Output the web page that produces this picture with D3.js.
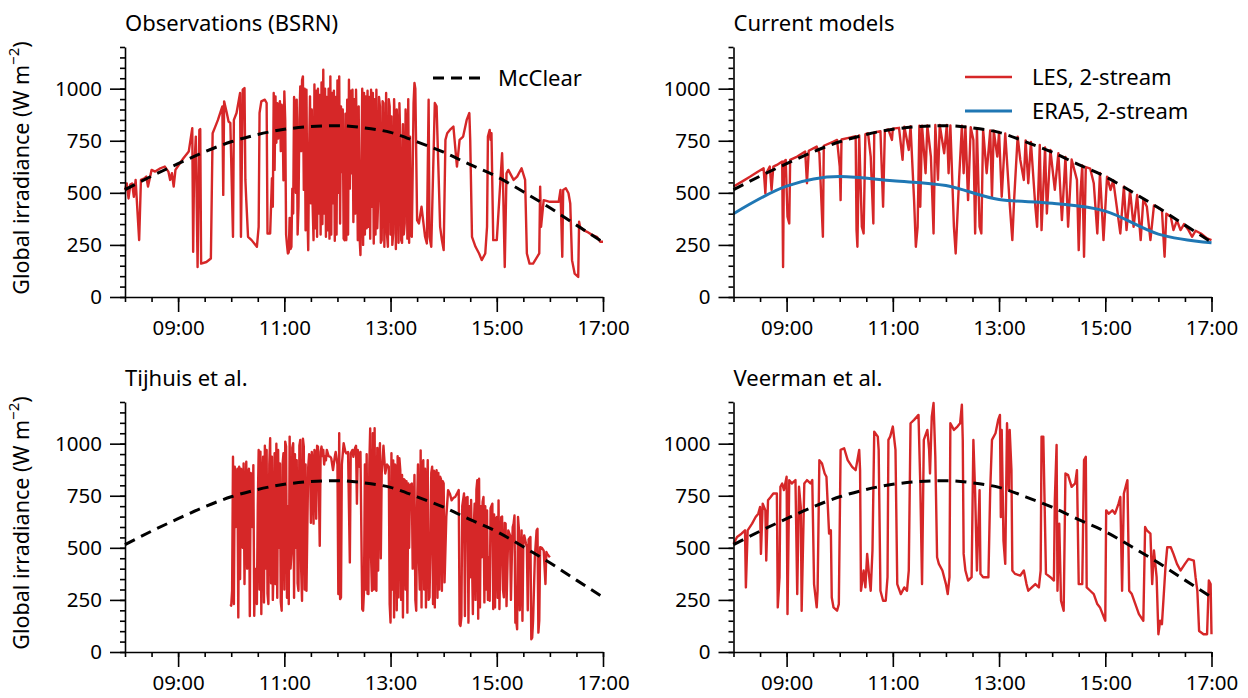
<!DOCTYPE html>
<html>
<head>
<meta charset="utf-8">
<script src="https://cdn.jsdelivr.net/npm/d3@7"></script>
<style>
  body { margin: 0; background: #fff; }
  svg text { font-family: "Noto Sans", sans-serif; fill: #000; }
</style>
</head>
<body>
<script>
// clear-sky reference, half hourly
var mcclear = [
  ['08:00', 515], ['08:30', 580], ['09:00', 640], ['09:30', 697], ['10:00', 745],
  ['10:30', 780], ['11:00', 805], ['11:30', 818], ['12:00', 822], ['12:30', 812],
  ['13:00', 790], ['13:30', 745], ['14:00', 695], ['14:30', 635], ['15:00', 578],
  ['15:30', 505], ['16:00', 428], ['16:30', 345], ['17:00', 263]
];

var era5 = [
  ['08:00', 400], ['09:00', 532], ['10:00', 578], ['11:00', 558], ['12:00', 535],
  ['13:00', 468], ['14:00', 450], ['15:00', 412], ['16:00', 302], ['17:00', 260]
];

var bsrn = [
  ['08:00',514],['08:02',545],['08:04',473],['08:06',540],['08:08',545],['08:10',481],['08:12',562],
  ['08:16',273],['08:18',562],['08:22',570],['08:24',578],['08:26',530],['08:30',610],['08:34',602],
  ['08:40',618],['08:45',626],['08:49',602],['08:51',562],['08:53',594],['08:55',530],['08:57',610],
  ['09:02',642],['09:06',666],['09:12',698],['09:14',754],['09:16',810],['09:17',217],['09:18',594],
  ['09:20',770],['09:22',144],['09:24',802],['09:25',806],['09:26',160],['09:32',168],['09:37',185],
  ['09:39',786],['09:42',818],['09:45',850],['09:50',915],['09:51',490],['09:52',939],['09:55',883],
  ['09:57',842],['09:59',835],['10:02',289],['10:03',850],['10:06',883],['10:10',979],['10:11',289],
  ['10:13',995],['10:15',1003],['10:16',562],['10:17',465],['10:19',289],['10:23',273],['10:29',241],
  ['10:31',337],['10:32',883],['10:34',939],['10:38',947],['10:40',931],['10:41',305],['10:44',305],
  ['10:46',570],['10:47',433],['10:48',979],['10:49',610],['10:50',963],['10:51',740],['10:52',930],
  ['10:53',760],['10:54',900],['10:55',940],['10:56',700],['10:57',923],['10:58',880],['10:59',560],
  ['11:00',987],['11:01',850],['11:02',300],['11:03',250],['11:04',209],['11:05',215],['11:06',380],
  ['11:07',230],['11:08',241],['11:09',520],['11:10',401],['11:11',960],['11:12',915],['11:13',500],
  ['11:14',947],['11:15',300],['11:16',433],['11:17',850],['11:18',1011],['11:19',700],['11:20',1040],
  ['11:21',1059],['11:22',514],['11:23',1000],['11:24',320],['11:25',995],['11:26',420],['11:27',225],
  ['11:28',700],['11:29',963],['11:30',450],['11:31',900],['11:32',433],['11:33',273],['11:34',1020],
  ['11:35',330],['11:36',990],['11:37',289],['11:38',1000],['11:39',400],['11:40',970],['11:41',300],
  ['11:42',1030],['11:43',350],['11:44',1091],['11:45',400],['11:46',1000],['11:47',289],['11:48',960],
  ['11:49',320],['11:50',1000],['11:51',280],['11:52',1059],['11:53',300],['11:54',980],['11:55',450],
  ['11:56',990],['11:57',270],['11:58',960],['11:59',300],['12:00',1040],['12:01',500],['12:02',1059],
  ['12:03',353],['12:04',915],['12:05',600],['12:06',900],['12:07',280],['12:08',273],['12:09',880],
  ['12:10',273],['12:11',947],['12:12',300],['12:13',1043],['12:14',520],['12:15',990],['12:16',594],
  ['12:17',995],['12:18',360],['12:19',950],['12:20',400],['12:21',995],['12:22',700],['12:23',273],
  ['12:24',915],['12:25',289],['12:26',201],['12:27',600],['12:28',1000],['12:29',250],['12:30',980],
  ['12:31',300],['12:32',963],['12:33',330],['12:34',990],['12:35',337],['12:36',960],['12:37',280],
  ['12:38',995],['12:39',433],['12:40',979],['12:41',257],['12:42',950],['12:43',300],['12:44',995],
  ['12:45',330],['12:46',465],['12:47',960],['12:48',915],['12:49',260],['12:50',273],['12:51',940],
  ['12:52',931],['12:53',241],['12:54',514],['12:55',979],['12:56',300],['12:57',241],['12:58',950],
  ['12:59',915],['13:00',300],['13:01',867],['13:02',250],['13:03',305],['13:04',950],['13:05',786],
  ['13:06',230],['13:07',900],['13:08',770],['13:09',260],['13:10',930],['13:11',754],['13:12',273],
  ['13:13',260],['13:14',830],['13:15',300],['13:16',353],['13:17',900],['13:18',786],['13:19',280],
  ['13:20',950],['13:21',260],['13:22',770],['13:23',300],['13:24',289],['13:25',600],['13:26',931],
  ['13:27',1027],['13:28',1000],['13:30',369],['13:32',353],['13:35',433],['13:39',289],['13:41',257],
  ['13:43',947],['13:44',289],['13:46',241],['13:50',931],['13:52',915],['13:56',337],['13:58',273],
  ['14:00',225],['14:02',754],['14:04',786],['14:07',802],['14:11',818],['14:15',626],['14:18',754],
  ['14:22',770],['14:26',850],['14:29',883],['14:30',754],['14:32',289],['14:36',241],['14:40',209],
  ['14:43',177],['14:47',209],['14:49',337],['14:50',770],['14:52',802],['14:53',754],['14:54',786],
  ['14:56',273],['15:00',273],['15:06',690],['15:07',562],['15:09',144],['15:11',594],['15:13',610],
  ['15:19',562],['15:23',578],['15:28',618],['15:32',562],['15:34',209],['15:37',160],['15:41',160],
  ['15:48',209],['15:49',530],['15:50',337],['15:53',465],['16:00',457],['16:10',457],['16:12',514],
  ['16:14',193],['16:15',514],['16:18',522],['16:21',498],['16:23',449],['16:25',177],['16:28',112],
  ['16:32',96],['16:33',361],['16:34',337],['16:38',321],['16:42',313],['16:48',297],['16:53',289],
  ['16:57',265],['17:00',265]
];

var les2s = [
  ['08:00',530],['08:10',555],['08:19',578],['08:27',600],['08:34',618],['08:36',497],['08:37',594],
  ['08:41',626],['08:43',514],['08:45',626],['08:49',634],['08:55',650],['08:56',144],['08:57',650],
  ['08:59',658],['09:01',385],['09:03',353],['09:04',658],['09:12',674],['09:21',698],['09:23',546],
  ['09:25',702],['09:34',722],['09:37',690],['09:41',289],['09:42',726],['09:53',746],['09:57',754],
  ['10:00',626],['10:01',465],['10:02',756],['10:10',764],['10:18',772],['10:19',321],['10:20',241],
  ['10:22',776],['10:25',337],['10:27',305],['10:29',782],['10:32',786],['10:35',674],['10:38',353],
  ['10:39',790],['10:46',796],['10:49',433],['10:51',800],['10:55',804],['10:59',754],['11:00',808],
  ['11:07',812],['11:11',658],['11:13',818],['11:18',706],['11:20',820],['11:24',465],['11:26',241],
  ['11:28',337],['11:30',822],['11:31',433],['11:33',822],['11:37',594],['11:39',824],['11:43',674],
  ['11:46',305],['11:48',826],['11:51',562],['11:53',826],['11:58',690],['12:01',826],['12:03',594],
  ['12:05',824],['12:09',337],['12:11',209],['12:15',578],['12:18',822],['12:20',594],['12:22',818],
  ['12:25',465],['12:28',815],['12:31',754],['12:33',305],['12:35',808],['12:38',337],['12:40',305],
  ['12:42',805],['12:46',594],['12:50',800],['12:52',481],['12:54',798],['12:58',674],['13:00',792],
  ['13:03',481],['13:07',785],['13:12',449],['13:15',273],['13:17',465],['13:21',770],['13:24',658],
  ['13:28',562],['13:30',752],['13:33',546],['13:36',744],['13:41',433],['13:43',337],['13:46',730],
  ['13:48',321],['13:52',718],['13:54',401],['13:58',706],['14:03',514],['14:07',690],['14:11',369],
  ['14:15',672],['14:18',337],['14:22',660],['14:28',562],['14:30',225],['14:32',498],['14:34',632],
  ['14:36',193],['14:38',624],['14:43',616],['14:47',546],['14:51',305],['14:54',595],['14:58',273],
  ['15:02',578],['15:06',514],['15:09',560],['15:13',433],['15:17',305],['15:21',530],['15:24',321],
  ['15:28',512],['15:32',337],['15:36',490],['15:40',273],['15:43',470],['15:47',433],['15:51',273],
  ['15:55',440],['16:04',418],['16:07',193],['16:09',400],['16:14',385],['16:17',321],['16:21',368],
  ['16:25',321],['16:29',350],['16:34',321],['16:38',289],['16:42',318],['16:48',305],['16:55',281],
  ['17:00',273]
];

var tijhuis = [
  ['09:59',230],['10:00',222],['10:01',294],['10:02',937],['10:03',230],['10:04',889],['10:05',600],
  ['10:06',857],['10:07',880],['10:08',166],['10:09',889],['10:10',350],['10:11',880],['10:12',873],
  ['10:13',500],['10:14',905],['10:15',326],['10:16',700],['10:17',913],['10:18',400],['10:19',857],
  ['10:20',880],['10:21',173],['10:22',860],['10:23',841],['10:24',600],['10:25',897],['10:26',174],
  ['10:27',400],['10:28',262],['10:29',230],['10:30',700],['10:31',970],['10:32',300],['10:33',962],
  ['10:34',182],['10:35',800],['10:36',937],['10:37',238],['10:38',990],['10:39',400],['10:40',970],
  ['10:41',280],['10:42',230],['10:43',900],['10:44',1026],['10:45',330],['10:46',937],['10:47',250],
  ['10:48',439],['10:49',954],['10:50',326],['10:51',1000],['10:52',260],['10:53',970],['10:54',500],
  ['10:55',905],['10:56',240],['10:57',198],['10:58',900],['10:59',954],['11:00',300],['11:01',1010],
  ['11:02',986],['11:03',260],['11:04',700],['11:05',230],['11:06',1034],['11:07',400],['11:08',471],
  ['11:09',980],['11:10',1002],['11:11',260],['11:12',950],['11:13',500],['11:14',921],['11:15',330],
  ['11:16',294],['11:17',990],['11:18',1018],['11:19',400],['11:20',246],['11:21',1024],['11:22',986],
  ['11:23',300],['11:24',900],['11:25',294],['11:26',600],['11:27',889],['11:28',950],['11:29',937],
  ['11:30',620],['11:31',960],['11:32',900],['11:33',616],['11:34',970],['11:35',954],['11:36',640],
  ['11:37',990],['11:38',986],['11:39',800],['11:40',510],['11:41',960],['11:42',986],['11:43',940],
  ['11:44',970],['11:45',900],['11:46',940],['11:47',920],['11:48',970],['11:50',940],['11:52',937],
  ['11:53',930],['11:55',873],['11:57',937],['11:58',960],['12:00',900],['12:01',278],['12:02',1050],
  ['12:03',254],['12:04',262],['12:05',900],['12:07',1002],['12:09',960],['12:10',954],['12:12',960],
  ['12:14',430],['12:15',954],['12:17',970],['12:18',937],['12:20',980],['12:21',990],['12:22',712],
  ['12:23',970],['12:25',889],['12:26',960],['12:28',206],['12:29',198],['12:30',294],['12:31',900],
  ['12:32',300],['12:33',950],['12:34',280],['12:35',278],['12:36',900],['12:37',1073],['12:38',455],
  ['12:39',294],['12:40',1050],['12:41',300],['12:42',1074],['12:43',310],['12:44',294],['12:45',980],
  ['12:46',391],['12:47',900],['12:48',1002],['12:49',450],['12:50',857],['12:52',990],['12:54',857],
  ['12:56',900],['12:58',889],['12:59',230],['13:00',141],['13:01',954],['13:02',300],['13:03',920],
  ['13:04',166],['13:05',900],['13:06',889],['13:07',200],['13:08',940],['13:09',262],['13:10',930],
  ['13:11',873],['13:12',250],['13:13',850],['13:14',166],['13:15',830],['13:16',825],['13:17',300],
  ['13:18',820],['13:19',189],['13:20',809],['13:21',500],['13:22',800],['13:24',809],['13:25',400],
  ['13:26',616],['13:27',850],['13:28',250],['13:29',198],['13:30',700],['13:31',900],['13:32',455],
  ['13:33',300],['13:34',968],['13:35',214],['13:36',900],['13:37',921],['13:38',300],['13:39',880],
  ['13:40',214],['13:41',700],['13:42',921],['13:43',250],['13:44',262],['13:45',487],['13:46',860],
  ['13:47',889],['13:48',230],['13:49',870],['13:50',214],['13:51',850],['13:52',873],['13:53',260],
  ['13:54',860],['13:55',300],['13:56',841],['13:57',830],['13:58',294],['13:59',820],['14:00',809],
  ['14:01',334],['14:03',648],['14:05',777],['14:07',760],['14:09',728],['14:11',740],['14:13',744],
  ['14:15',760],['14:17',777],['14:18',133],['14:19',125],['14:20',166],['14:21',700],['14:23',761],
  ['14:24',173],['14:25',740],['14:27',744],['14:28',141],['14:29',700],['14:30',359],['14:31',730],
  ['14:33',182],['14:34',600],['14:35',712],['14:36',250],['14:37',780],['14:38',825],['14:39',160],
  ['14:40',832],['14:41',214],['14:42',700],['14:43',455],['14:44',720],['14:45',744],['14:46',238],
  ['14:47',700],['14:48',300],['14:49',680],['14:50',250],['14:51',455],['14:52',246],['14:53',690],
  ['14:55',712],['14:56',206],['14:57',660],['14:58',214],['14:59',640],['15:00',648],['15:01',260],
  ['15:02',728],['15:03',206],['15:05',648],['15:06',650],['15:07',300],['15:08',262],['15:09',620],
  ['15:10',616],['15:11',220],['15:13',584],['15:15',560],['15:16',250],['15:17',455],['15:18',600],
  ['15:19',616],['15:20',655],['15:21',141],['15:22',150],['15:23',109],['15:24',648],['15:25',590],
  ['15:26',200],['15:28',584],['15:29',150],['15:30',519],['15:31',560],['15:33',520],['15:34',503],
  ['15:35',200],['15:36',540],['15:38',552],['15:39',61],['15:40',69],['15:41',150],['15:42',300],
  ['15:43',455],['15:44',520],['15:45',584],['15:46',591],['15:47',93],['15:48',150],['15:49',503],
  ['15:51',500],['15:53',487],['15:55',326],['15:56',480],['15:57',471],['15:59',460],['16:00',455]
];

var veerman = [
  ['08:00',519],['08:04',552],['08:09',568],['08:13',584],['08:14',310],['08:16',584],['08:21',616],
  ['08:25',648],['08:28',664],['08:30',696],['08:31',471],['08:33',712],['08:36',680],['08:37',439],
  ['08:39',728],['08:42',744],['08:45',761],['08:49',761],['08:50',214],['08:52',359],['08:53',793],
  ['08:55',809],['08:57',777],['09:00',841],['09:01',182],['09:03',825],['09:06',809],['09:10',825],
  ['09:12',278],['09:14',793],['09:16',696],['09:17',198],['09:20',809],['09:23',825],['09:27',809],
  ['09:29',825],['09:31',326],['09:34',214],['09:35',294],['09:37',921],['09:40',905],['09:43',857],
  ['09:45',841],['09:48',568],['09:50',584],['09:51',262],['09:53',214],['09:57',198],['09:59',230],
  ['10:01',970],['10:05',978],['10:09',921],['10:14',889],['10:18',873],['10:22',970],['10:23',873],
  ['10:24',294],['10:27',391],['10:29',310],['10:31',471],['10:33',375],['10:35',294],['10:37',487],
  ['10:39',1058],['10:43',1034],['10:44',970],['10:46',294],['10:49',246],['10:52',246],['10:54',359],
  ['10:55',1018],['10:57',1034],['11:00',1082],['11:03',970],['11:05',326],['11:09',278],['11:13',310],
  ['11:16',294],['11:18',391],['11:20',1098],['11:24',1114],['11:29',1138],['11:31',809],['11:33',326],
  ['11:35',1018],['11:39',1066],['11:41',970],['11:42',857],['11:44',1130],['11:46',1195],['11:48',937],
  ['11:50',455],['11:52',423],['11:56',391],['12:00',326],['12:02',278],['12:04',359],['12:05',1098],
  ['12:09',1066],['12:13',1082],['12:16',1098],['12:18',1187],['12:19',1018],['12:20',471],['12:22',391],
  ['12:25',343],['12:29',359],['12:31',1018],['12:33',761],['12:35',391],['12:38',777],['12:39',375],
  ['12:42',359],['12:48',359],['12:50',777],['12:52',1018],['12:56',1050],['12:59',1114],['13:01',1138],
  ['13:02',648],['13:03',1066],['13:05',535],['13:07',423],['13:09',1098],['13:11',777],['13:12',1066],
  ['13:14',873],['13:15',391],['13:18',375],['13:24',367],['13:28',391],['13:31',326],['13:33',294],
  ['13:37',310],['13:41',326],['13:45',310],['13:47',391],['13:48',1034],['13:50',1034],['13:53',375],
  ['13:58',359],['14:02',343],['14:03',728],['14:05',994],['14:06',294],['14:08',616],['14:10',246],
  ['14:13',198],['14:15',857],['14:18',849],['14:22',793],['14:26',809],['14:28',873],['14:30',326],
  ['14:34',326],['14:36',921],['14:38',937],['14:39',310],['14:43',294],['14:47',278],['14:51',230],
  ['14:54',214],['15:00',150],['15:01',680],['15:04',664],['15:08',680],['15:11',664],['15:15',712],
  ['15:17',744],['15:19',294],['15:21',761],['15:23',793],['15:25',825],['15:27',294],['15:30',278],
  ['15:34',230],['15:38',182],['15:43',150],['15:45',600],['15:47',584],['15:51',568],['15:53',326],
  ['15:55',487],['15:58',359],['16:00',85],['16:02',150],['16:04',133],['16:08',407],['16:10',503],
  ['16:14',503],['16:17',471],['16:21',423],['16:25',391],['16:30',423],['16:34',447],['16:40',439],
  ['16:42',359],['16:44',294],['16:46',101],['16:51',85],['16:55',85],['16:57',343],['16:59',326],
  ['17:00',85]
];

var xTickLabels = ['09:00', '11:00', '13:00', '15:00', '17:00'];
var yTicks = [0, 250, 500, 750, 1000];
var titles = ['Observations (BSRN)', 'Current models', 'Tijhuis et al.', 'Veerman et al.'];

var red = '#d62728';
var blue = '#1f77b4';
var w = 1248, h = 698;
var pw = 478, ph = 250;
var parseTime = d3.timeParse('%H:%M');

var svg = d3.select('body').append('svg')
  .attr('width', w)
  .attr('height', h);

var panels = [
  { x0: 125, y0: 47, series: bsrn, ylabel: true },
  { x0: 733.5, y0: 47, series: les2s, era: era5, ylabel: false },
  { x0: 125, y0: 402, series: tijhuis, ylabel: true },
  { x0: 733.5, y0: 402, series: veerman, ylabel: false }
];

panels.forEach(function (p, i) {
  var x = d3.scaleTime()
    .domain([parseTime('08:00'), parseTime('17:00')])
    .range([p.x0, p.x0 + pw]);
  var y = d3.scaleLinear()
    .domain([0, 1200])
    .range([p.y0 + ph, p.y0]);

  var g = svg.append('g');

  var line = d3.line()
    .x(function (d) { return x(parseTime(d[0])); })
    .y(function (d) { return y(d[1]); });

  // model / observation trace
  g.append('path')
    .datum(p.series)
    .attr('d', line)
    .attr('fill', 'none')
    .attr('stroke', red)
    .attr('stroke-width', 2.4)
    .attr('stroke-linejoin', 'round');

  if (p.era) {
    g.append('path')
      .datum(p.era)
      .attr('d', line.curve(d3.curveMonotoneX))
      .attr('fill', 'none')
      .attr('stroke', blue)
      .attr('stroke-width', 3);
    line.curve(d3.curveLinear);
  }

  g.append('path')
    .datum(mcclear)
    .attr('d', line.curve(d3.curveMonotoneX))
    .attr('fill', 'none')
    .attr('stroke', '#000')
    .attr('stroke-width', 3)
    .attr('stroke-dasharray', '11,7');

  // minor ticks
  var minorX = d3.timeMinute.every(30).range(parseTime('08:00'), parseTime('17:01'));
  g.append('g')
    .attr('class', 'minor')
    .attr('transform', 'translate(0,' + (p.y0 + ph) + ')')
    .call(d3.axisBottom(x).tickValues(minorX).tickSize(5).tickFormat(''));
  g.append('g')
    .attr('class', 'minor')
    .attr('transform', 'translate(' + p.x0 + ',0)')
    .call(d3.axisLeft(y).tickValues(d3.range(0, 1201, 50)).tickSize(5).tickFormat(''));
  g.selectAll('.minor .domain').remove();

  // major ticks + spines
  g.append('g')
    .attr('class', 'major')
    .attr('transform', 'translate(0,' + (p.y0 + ph) + ')')
    .call(d3.axisBottom(x)
      .tickValues(xTickLabels.map(parseTime))
      .tickSize(15).tickSizeOuter(0).tickPadding(8)
      .tickFormat(d3.timeFormat('%H:%M')));
  g.append('g')
    .attr('class', 'major')
    .attr('transform', 'translate(' + p.x0 + ',0)')
    .call(d3.axisLeft(y)
      .tickValues(yTicks)
      .tickSize(15).tickSizeOuter(0).tickPadding(8)
      .tickFormat(d3.format('d')));

  g.selectAll('.tick line, .domain')
    .attr('stroke', '#000')
    .attr('stroke-width', 1.6);
  g.selectAll('.major text')
    .style('font-size', '20.5px');

  g.append('text')
    .attr('x', p.x0)
    .attr('y', p.y0 - 16)
    .style('font-size', '22px')
    .text(titles[i]);

  if (p.ylabel) {
    var lab = g.append('text')
      .attr('transform', 'translate(' + 29 + ',' + (p.y0 + ph / 2 - 4) + ') rotate(-90)')
      .attr('text-anchor', 'middle')
      .style('font-size', '21.5px');
    lab.append('tspan').text('Global irradiance (W m');
    lab.append('tspan').attr('baseline-shift', 'super').style('font-size', '15px').text('\u22122');
    lab.append('tspan').text(')');
  }
});

// legends
var leg1 = svg.append('g');
leg1.append('line')
  .attr('x1', 433).attr('x2', 480).attr('y1', 78).attr('y2', 78)
  .attr('stroke', '#000').attr('stroke-width', 3).attr('stroke-dasharray', '11,7');
leg1.append('text').attr('x', 498).attr('y', 78).attr('dy', '0.35em')
  .style('font-size', '22px').text('McClear');

var legItems = [
  { label: 'LES, 2-stream', color: red, width: 2.4, y: 77 },
  { label: 'ERA5, 2-stream', color: blue, width: 3, y: 111 }
];
var leg2 = svg.append('g').selectAll('g')
  .data(legItems)
  .enter()
  .append('g');
leg2.append('line')
  .attr('x1', 965).attr('x2', 1012)
  .attr('y1', function (d) { return d.y; })
  .attr('y2', function (d) { return d.y; })
  .attr('stroke', function (d) { return d.color; })
  .attr('stroke-width', function (d) { return d.width; });
leg2.append('text')
  .attr('x', 1032)
  .attr('y', function (d) { return d.y; })
  .attr('dy', '0.35em')
  .style('font-size', '22px')
  .text(function (d) { return d.label; });
</script>
</body>
</html>
